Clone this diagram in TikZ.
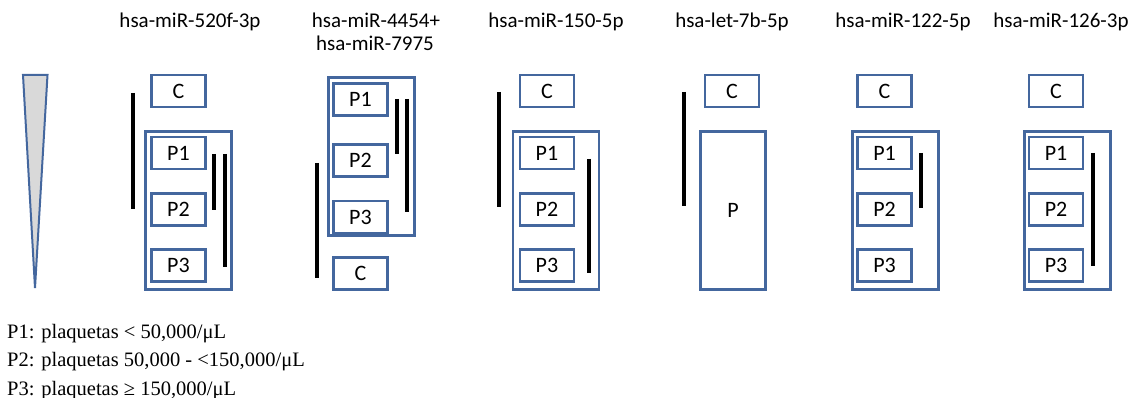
\documentclass[tikz,border=0pt]{standalone}
\usepackage{fontspec}
\setmainfont{Liberation Serif}
\newfontfamily\calib{Carlito}
\definecolor{boxblue}{RGB}{68,103,158}
\definecolor{tipgray}{RGB}{217,217,217}
\begin{document}
\begin{tikzpicture}[x=1pt,y=-1pt,
  box/.style={draw=boxblue,line width=2.6pt,rectangle,inner sep=0pt,
    minimum width=54pt,minimum height=32pt,font=\calib\fontsize{22}{26}\selectfont},
  outer/.style={draw=boxblue,line width=2.6pt,rectangle,inner sep=0pt,
    minimum width=86pt,minimum height=158pt},
  bigp/.style={draw=boxblue,line width=2.6pt,rectangle,inner sep=0pt,
    minimum width=65pt,minimum height=158pt,font=\calib\fontsize{22}{26}\selectfont},
  bar/.style={line width=4pt,black},
  title/.style={anchor=base,inner sep=0pt,font=\calib\fontsize{21}{25}\selectfont},
  legend/.style={anchor=base west,inner sep=0pt,font=\fontsize{20.5}{24}\selectfont}]
\useasboundingbox (0,0) rectangle (1138,398);

% gradient triangle
\draw[draw=boxblue,fill=tipgray,line width=2pt,line join=miter] (23,75) -- (47.5,75) -- (35,288) -- cycle;

% titles
\node[title] (t1) at (190,28) {hsa-miR-520f-3p};
\node[title] (t2a) at (376,28) {hsa-miR-4454+};
\node[title] (t2b) at (375,51) {hsa-miR-7975};
\node[title] (t3) at (556,28) {hsa-miR-150-5p};
\node[title] (t4) at (732,28) {hsa-let-7b-5p};
\node[title] (t5) at (903,28) {hsa-miR-122-5p};
\node[title] (t6) at (1061,28) {hsa-miR-126-3p};

% group 1
\node[outer] (o1) at (188.5,210.5) {};
\node[box] (c1) at (178.5,91) {C};
\node[box] (p11) at (178.5,153) {P1};
\node[box] (p12) at (178.5,209.5) {P2};
\node[box] (p13) at (178.5,265.5) {P3};
\draw[bar] (133,93) -- (133,209);
\draw[bar] (214,154) -- (214,210);
\draw[bar] (225,154) -- (225,267);

% group 2
\node[outer] (o2) at (371.5,156.5) {};
\node[box] (p21) at (360.5,99.5) {P1};
\node[box] (p22) at (360.5,160.5) {P2};
\node[box] (p23) at (360.5,217) {P3};
\node[box] (c2) at (360.5,273.5) {C};
\draw[bar] (317,163) -- (317,278);
\draw[bar] (397,99) -- (397,154);
\draw[bar] (407,99) -- (407,212);

% group 3
\node[outer] (o3) at (556,210.5) {};
\node[box] (c3) at (547,91) {C};
\node[box] (p31) at (547,153) {P1};
\node[box] (p32) at (547,209.5) {P2};
\node[box] (p33) at (547,265.5) {P3};
\draw[bar] (499,92) -- (499,207);
\draw[bar] (589,159) -- (589,273);

% group 4
\node[box] (c4) at (732,91) {C};
\node[bigp] (p4) at (733,210.5) {P};
\draw[bar] (684,92) -- (684,206);

% group 5
\node[outer] (o5) at (895.5,210.5) {};
\node[box] (c5) at (884.5,91) {C};
\node[box] (p51) at (884.5,153) {P1};
\node[box] (p52) at (884.5,209.5) {P2};
\node[box] (p53) at (884.5,265.5) {P3};
\draw[bar] (921,153) -- (921,208);

% group 6
\node[outer] (o6) at (1067.5,210.5) {};
\node[box] (c6) at (1056,91) {C};
\node[box] (p61) at (1056,153) {P1};
\node[box] (p62) at (1056,209.5) {P2};
\node[box] (p63) at (1056,265.5) {P3};
\draw[bar] (1093,153) -- (1093,266);

% legend
\node[legend] (l1) at (7,338) {P1: plaquetas < 50,000/μL};
\node[legend] (l2) at (7,366.5) {P2: plaquetas 50,000 - <150,000/μL};
\node[legend] (l3) at (7,395) {P3: plaquetas ≥ 150,000/μL};
\end{tikzpicture}
\end{document}
